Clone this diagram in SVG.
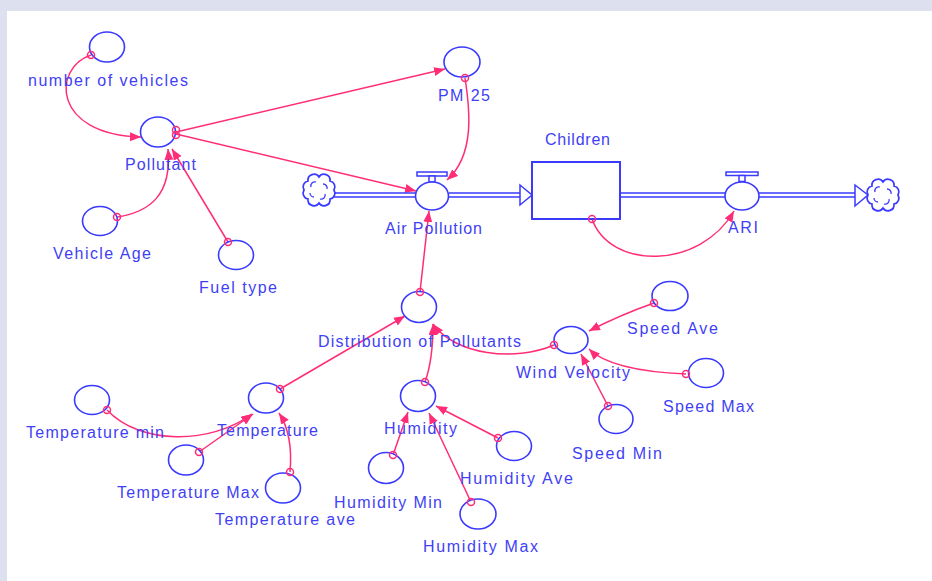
<svg xmlns="http://www.w3.org/2000/svg" width="932" height="581" viewBox="0 0 932 581">
<style>
.aux{fill:#fff;stroke:#3a3aff;stroke-width:1.6}
.lbl{font-family:"Liberation Sans",Arial,sans-serif;font-size:16px;fill:#3f3ff5}
.con{fill:none;stroke:#ff2d78;stroke-width:1.5}
.org{fill:none;stroke:#ff2d78;stroke-width:1.5}
.pipe{stroke:#3a3aff;stroke-width:1.5}
.cloud{fill:#fff;stroke:#3a3aff;stroke-width:1.7}
</style>
<defs>
<marker id="ah" markerUnits="userSpaceOnUse" markerWidth="13" markerHeight="11" refX="11" refY="4.5" orient="auto">
<path d="M0,0 L11,4.5 L0,9 z" fill="#ff2d78"/>
</marker>
<g id="cloudshape">
<path class="cloud" d="M15,0 A6 6 0 0 1 11,9 A6 6 0 0 1 0,13 A6 6 0 0 1 -11,9 A6 6 0 0 1 -15,0 A6 6 0 0 1 -11,-9 A6 6 0 0 1 0,-13 A6 6 0 0 1 11,-9 A6 6 0 0 1 15,0 z"/>
<path d="M-8,-3 a4 4 0 0 1 5,-5 M4,-6 a4 4 0 0 1 4,5 M6,4 a4 4 0 0 1 -5,5 M-5,7 a4 4 0 0 1 -4,-4" fill="none" stroke="#3a3aff" stroke-width="1.3"/>
</g>
</defs>
<rect x="0" y="0" width="932" height="581" fill="#dde0ef"/>
<rect x="7" y="11" width="925" height="570" fill="#fff"/>

<g id="connectors">
<path class="con" marker-end="url(#ah)" d="M91,55 C52,68 52,135 141,137"/>
<path class="con" marker-end="url(#ah)" d="M176,132 L445,69"/>
<path class="con" marker-end="url(#ah)" d="M176,134 L416,191"/>
<path class="con" marker-end="url(#ah)" d="M465,78 C470,110 475,155 447,180"/>
<path class="con" marker-end="url(#ah)" d="M592,219 C610,270 700,270 734,211"/>
<path class="con" marker-end="url(#ah)" d="M117,217 C150,212 172,195 168,149"/>
<path class="con" marker-end="url(#ah)" d="M228,242 L172,149"/>
<path class="con" marker-end="url(#ah)" d="M420,292 L429,211"/>
<path class="con" marker-end="url(#ah)" d="M280,389 L405,316"/>
<path class="con" marker-end="url(#ah)" d="M425,382 Q433,360 433,324"/>
<path class="con" marker-end="url(#ah)" d="M554,345 C515,362 455,355 433,324"/>
<path class="con" marker-end="url(#ah)" d="M654,303 Q620,315 589,331"/>
<path class="con" marker-end="url(#ah)" d="M686,374 C640,372 605,365 589,349"/>
<path class="con" marker-end="url(#ah)" d="M608,406 L581,354"/>
<path class="con" marker-end="url(#ah)" d="M393,455 L408,412"/>
<path class="con" marker-end="url(#ah)" d="M471,502 L429,413"/>
<path class="con" marker-end="url(#ah)" d="M498,438 L436,406"/>
<path class="con" marker-end="url(#ah)" d="M107,410 C140,445 210,445 252,414"/>
<path class="con" marker-end="url(#ah)" d="M199,452 L253,414"/>
<path class="con" marker-end="url(#ah)" d="M290,472 C292,450 290,430 279,413"/>
</g>

<g id="flows">
<line class="pipe" x1="334" y1="193" x2="417" y2="193"/>
<line class="pipe" x1="334" y1="197" x2="417" y2="197"/>
<line class="pipe" x1="449" y1="193" x2="521" y2="193"/>
<line class="pipe" x1="449" y1="197" x2="521" y2="197"/>
<polygon points="520,185 532,195 520,205" fill="#fff" stroke="#3a3aff" stroke-width="1.5"/>
<line class="pipe" x1="620" y1="193" x2="726" y2="193"/>
<line class="pipe" x1="620" y1="197" x2="726" y2="197"/>
<line class="pipe" x1="758" y1="193" x2="856" y2="193"/>
<line class="pipe" x1="758" y1="197" x2="856" y2="197"/>
<polygon points="855,185 868,195 855,206" fill="#fff" stroke="#3a3aff" stroke-width="1.5"/>
</g>

<g id="source_cloud"><use href="#cloudshape" transform="translate(319,190)"/></g>
<g id="sink_cloud"><use href="#cloudshape" transform="translate(883,195)"/></g>

<g id="air_pollution">
<rect x="417" y="172" width="30" height="4" fill="#fff" stroke="#3a3aff" stroke-width="1.5"/>
<rect x="429" y="176" width="6" height="6" fill="#fff" stroke="#3a3aff" stroke-width="1.5"/>
<ellipse class="aux" cx="432" cy="196" rx="16.5" ry="14"/>
<text class="lbl" x="385" y="234" textLength="97" lengthAdjust="spacing">Air Pollution</text>
</g>

<g id="children">
<rect x="532" y="162" width="88" height="57" fill="#fff" stroke="#3a3aff" stroke-width="2"/>
<text class="lbl" x="545" y="145" textLength="65" lengthAdjust="spacing">Children</text>
</g>

<g id="ari">
<rect x="726" y="172" width="32" height="3.5" fill="#fff" stroke="#3a3aff" stroke-width="1.5"/>
<rect x="739" y="175.5" width="6" height="6" fill="#fff" stroke="#3a3aff" stroke-width="1.5"/>
<ellipse class="aux" cx="742" cy="196" rx="17" ry="14"/>
<text class="lbl" x="728" y="233" textLength="30" lengthAdjust="spacing">ARI</text>
</g>

<g id="number_of_vehicles">
<ellipse class="aux" cx="107" cy="47" rx="17.5" ry="15"/>
<text class="lbl" x="28" y="86" textLength="160" lengthAdjust="spacing">number of  vehicles</text>
</g>

<g id="pollutant">
<ellipse class="aux" cx="158" cy="132" rx="17.5" ry="15"/>
<text class="lbl" x="125" y="170" textLength="71" lengthAdjust="spacing">Pollutant</text>
</g>

<g id="pm25">
<ellipse class="aux" cx="462" cy="62" rx="18" ry="15"/>
<text class="lbl" x="438" y="101" textLength="52" lengthAdjust="spacing">PM 25</text>
</g>

<g id="vehicle_age">
<ellipse class="aux" cx="100" cy="221" rx="17.5" ry="14.5"/>
<text class="lbl" x="53" y="259" textLength="98" lengthAdjust="spacing">Vehicle Age</text>
</g>

<g id="fuel_type">
<ellipse class="aux" cx="236" cy="255" rx="17.5" ry="14.5"/>
<text class="lbl" x="199" y="293" textLength="78" lengthAdjust="spacing">Fuel type</text>
</g>

<g id="distribution">
<ellipse class="aux" cx="419" cy="307" rx="17.5" ry="15.5"/>
<text class="lbl" x="318" y="347" textLength="203" lengthAdjust="spacing">Distribution of Pollutants</text>
</g>

<g id="wind_velocity">
<ellipse class="aux" cx="571" cy="340" rx="17" ry="13.5"/>
<text class="lbl" x="516" y="378" textLength="114" lengthAdjust="spacing">Wind Velocity</text>
</g>

<g id="speed_ave">
<ellipse class="aux" cx="670" cy="296" rx="18" ry="14.5"/>
<text class="lbl" x="627" y="334" textLength="91" lengthAdjust="spacing">Speed Ave</text>
</g>

<g id="speed_max">
<ellipse class="aux" cx="706" cy="373" rx="17.5" ry="14.5"/>
<text class="lbl" x="663" y="412" textLength="91" lengthAdjust="spacing">Speed Max</text>
</g>

<g id="speed_min">
<ellipse class="aux" cx="616" cy="419" rx="17" ry="14.5"/>
<text class="lbl" x="572" y="459" textLength="90" lengthAdjust="spacing">Speed  Min</text>
</g>

<g id="humidity">
<ellipse class="aux" cx="418" cy="396" rx="17.5" ry="15.5"/>
<text class="lbl" x="384" y="434" textLength="73" lengthAdjust="spacing">Humidity</text>
</g>

<g id="humidity_min">
<ellipse class="aux" cx="386" cy="468" rx="17.5" ry="15.5"/>
<text class="lbl" x="334" y="508" textLength="108" lengthAdjust="spacing">Humidity Min</text>
</g>

<g id="humidity_max">
<ellipse class="aux" cx="478" cy="514" rx="18" ry="15"/>
<text class="lbl" x="423" y="552" textLength="115" lengthAdjust="spacing">Humidity Max</text>
</g>

<g id="humidity_ave">
<ellipse class="aux" cx="514" cy="446" rx="17.5" ry="14.5"/>
<text class="lbl" x="460" y="484" textLength="113" lengthAdjust="spacing">Humidity Ave</text>
</g>

<g id="temperature">
<ellipse class="aux" cx="266" cy="398" rx="17.5" ry="15"/>
<text class="lbl" x="217" y="436" textLength="101" lengthAdjust="spacing">Temperature</text>
</g>

<g id="temperature_min">
<ellipse class="aux" cx="92" cy="400" rx="17.5" ry="14.5"/>
<text class="lbl" x="26" y="438" textLength="138" lengthAdjust="spacing">Temperature min</text>
</g>

<g id="temperature_max">
<ellipse class="aux" cx="186" cy="460" rx="17.5" ry="15"/>
<text class="lbl" x="117" y="498" textLength="142" lengthAdjust="spacing">Temperature Max</text>
</g>

<g id="temperature_ave">
<ellipse class="aux" cx="283" cy="488" rx="17.5" ry="15"/>
<text class="lbl" x="215" y="525" textLength="140" lengthAdjust="spacing">Temperature ave</text>
</g>

<g id="connector_origins">
<circle class="org" cx="91" cy="55" r="3.5"/>
<circle class="org" cx="176" cy="130" r="3.5"/>
<circle class="org" cx="176" cy="135" r="3.5"/>
<circle class="org" cx="465" cy="78" r="3.5"/>
<circle class="org" cx="592" cy="219" r="3.5"/>
<circle class="org" cx="117" cy="217" r="3.5"/>
<circle class="org" cx="228" cy="242" r="3.5"/>
<circle class="org" cx="420" cy="292" r="3.5"/>
<circle class="org" cx="280" cy="389" r="3.5"/>
<circle class="org" cx="425" cy="382" r="3.5"/>
<circle class="org" cx="554" cy="345" r="3.5"/>
<circle class="org" cx="654" cy="303" r="3.5"/>
<circle class="org" cx="686" cy="374" r="3.5"/>
<circle class="org" cx="608" cy="406" r="3.5"/>
<circle class="org" cx="393" cy="455" r="3.5"/>
<circle class="org" cx="471" cy="502" r="3.5"/>
<circle class="org" cx="498" cy="438" r="3.5"/>
<circle class="org" cx="107" cy="410" r="3.5"/>
<circle class="org" cx="199" cy="452" r="3.5"/>
<circle class="org" cx="290" cy="472" r="3.5"/>
</g>
</svg>
